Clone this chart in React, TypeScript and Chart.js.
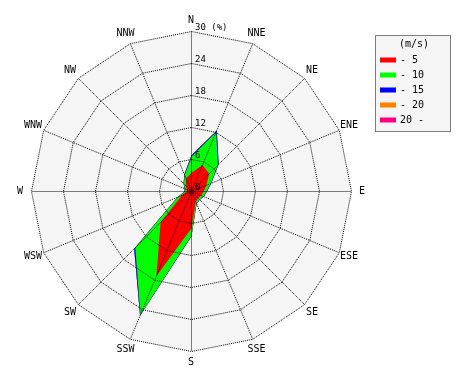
import { useEffect, useRef } from "react";
import { Chart, registerables } from "chart.js";

Chart.register(...registerables);

const directions = ["N", "NNE", "NE", "ENE", "E", "ESE", "SE", "SSE", "S", "SSW", "SW", "WSW", "W", "WNW", "NW", "NNW"];
const speedClasses = ["- 5", "- 10", "- 15", "- 20", "20 -"];
const legendTitle = "(m/s)";
const tickValues = [0, 6, 12, 18, 24, 30];
const unitLabel = "(%)";

// cumulative frequency (%) of winds up to each speed class, per direction
const upTo5 = [3.5, 5.4, 4.7, 3.0, 2.3, 2.0, 1.8, 2.1, 6.9, 17.2, 8.2, 2.0, 0.9, 1.0, 1.5, 2.7];
const upTo10 = [6.5, 12.1, 7.0, 3.9, 2.8, 2.4, 2.1, 2.4, 8.3, 25.0, 14.9, 2.8, 1.2, 1.3, 2.0, 3.3];
const upTo15 = [6.8, 12.4, 7.2, 4.0, 2.9, 2.5, 2.2, 2.5, 8.4, 25.2, 15.2, 2.9, 1.3, 1.4, 2.1, 3.5];
const upTo20 = [6.8, 12.4, 7.2, 4.0, 2.9, 2.5, 2.2, 2.5, 8.4, 25.2, 15.2, 2.9, 1.3, 1.4, 2.1, 3.5];
const allSpeeds = [6.8, 12.4, 7.2, 4.0, 2.9, 2.5, 2.2, 2.5, 8.4, 25.2, 15.2, 2.9, 1.3, 1.4, 2.1, 3.5];

const classColors = ["#ff0000", "#00ff00", "#0000ff", "#ff8000", "#ff0080"];
const PANEL_BG = "#f5f5f5";
const MONO = '"DejaVu Sans Mono", "Liberation Mono", monospace';

export default function App() {
  const ref = useRef<HTMLCanvasElement | null>(null);

  useEffect(() => {
    if (!ref.current) return;
    const series = [upTo5, upTo10, upTo15, upTo20, allSpeeds];
    const maxVal = tickValues[tickValues.length - 1];

    const crispPlugin = {
      id: "crisp",
      beforeDraw(chart: any) {
        chart.ctx.save();
        chart.ctx.translate(0.5, 0.5);
      },
      afterDraw(chart: any) {
        chart.ctx.restore();
      },
    };

    const backgroundPlugin = {
      id: "roseBackground",
      beforeDatasetsDraw(chart: any) {
        const s = chart.scales.r;
        const ctx = chart.ctx;
        ctx.save();
        ctx.fillStyle = PANEL_BG;
        ctx.beginPath();
        for (let i = 0; i < directions.length; i++) {
          const p = s.getPointPositionForValue(i, maxVal);
          if (i === 0) ctx.moveTo(p.x, p.y);
          else ctx.lineTo(p.x, p.y);
        }
        ctx.closePath();
        ctx.fill();
        ctx.restore();
      },
    };

    const textPlugin = {
      id: "roseText",
      afterDraw(chart: any) {
        const s = chart.scales.r;
        const ctx = chart.ctx;
        ctx.save();
        ctx.fillStyle = "#000";
        // direction labels
        ctx.font = `10px ${MONO}`;
        ctx.textAlign = "center";
        ctx.textBaseline = "middle";
        for (let i = 0; i < directions.length; i++) {
          const p = s.getPointPosition(i, s.drawingArea + 11);
          ctx.fillText(directions[i], p.x, p.y);
        }
        // tick labels
        ctx.font = `9px ${MONO}`;
        ctx.textAlign = "left";
        ctx.textBaseline = "bottom";
        tickValues.forEach((v, idx) => {
          const d = s.getDistanceFromCenterForValue(v);
          const txt = idx === tickValues.length - 1 ? `${v} ${unitLabel}` : `${v}`;
          ctx.fillText(txt, s.xCenter + 4, s.yCenter - d + 1);
        });
        // legend
        const lx = 375.5, ly = 35.5, lw = 75, lh = 96;
        ctx.fillStyle = PANEL_BG;
        ctx.fillRect(lx, ly, lw, lh);
        ctx.strokeStyle = "#000";
        ctx.lineWidth = 1;
        ctx.setLineDash([1, 1]);
        ctx.strokeRect(lx, ly, lw, lh);
        ctx.setLineDash([]);
        ctx.fillStyle = "#000";
        ctx.font = `10px ${MONO}`;
        ctx.textAlign = "center";
        ctx.textBaseline = "middle";
        ctx.fillText(legendTitle, 414, 44);
        ctx.textAlign = "left";
        speedClasses.forEach((name, i) => {
          const y = 60 + i * 15;
          ctx.fillStyle = classColors[i];
          ctx.fillRect(380, y - 2.5, 16, 5);
          ctx.fillStyle = "#000";
          ctx.fillText(name, 400, y);
        });
        ctx.restore();
      },
    };

    const chart = new Chart(ref.current, {
      type: "radar",
      data: {
        labels: directions,
        datasets: series.map((vals, i) => ({
          label: speedClasses[i],
          data: vals,
          backgroundColor: classColors[i],
          borderColor: classColors[i],
          borderWidth: 0,
          pointRadius: 0,
          fill: "origin",
          tension: 0,
        })),
      },
      options: {
        animation: false,
        responsive: false,
        layout: { padding: { left: 31, top: 31, right: 119, bottom: 29 } },
        plugins: { legend: { display: false }, tooltip: { enabled: false } },
        elements: { line: { borderWidth: 0 } },
        scales: {
          r: {
            min: 0,
            max: maxVal,
            startAngle: 0,
            ticks: { display: false, stepSize: 6 },
            pointLabels: { display: false },
            grid: { circular: false, color: "#000", lineWidth: 1, z: 1 },
            border: { dash: [1, 1] },
            angleLines: { display: true, color: "#000", lineWidth: 1, borderDash: [1, 1] },
          },
        },
      },
      plugins: [crispPlugin, backgroundPlugin, textPlugin],
    });
    return () => chart.destroy();
  }, []);

  return (
    <div style={{ position: "absolute", left: 0, top: 0, width: 470, height: 380, background: "#fff" }}>
      <canvas ref={ref} width={470} height={380} style={{ width: 470, height: 380, display: "block" }} />
    </div>
  );
}
